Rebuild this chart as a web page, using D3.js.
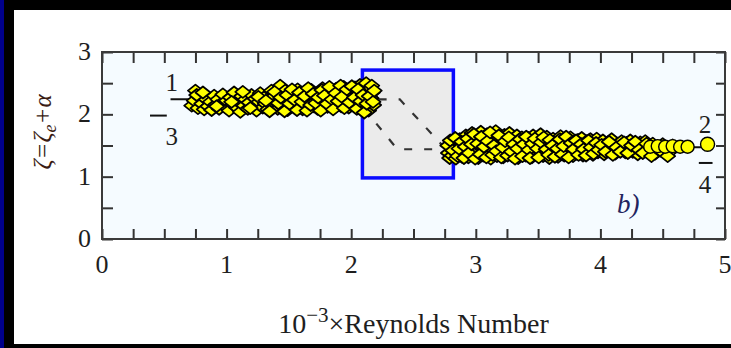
<!DOCTYPE html>
<html>
<head>
<meta charset="utf-8">
<script src="https://cdn.jsdelivr.net/npm/d3@7/dist/d3.min.js"></script>
<style>
  html, body { margin: 0; padding: 0; background: #ffffff; }
  svg { display: block; }
  text { font-family: "Liberation Serif", "DejaVu Serif", serif; }
</style>
</head>
<body>
<svg id="chart" width="731" height="348"></svg>
<script>
// Laminar branch (lower Reynolds numbers), in units of 10^3 Re
const laminarBranch = [
  [0.72,2.14],[0.74,2.22],[0.75,2.38],[0.77,2.10],[0.78,2.28],[0.80,2.17],[0.82,2.08],[0.83,2.25],[0.85,2.13],
  [0.87,2.20],[0.88,2.07],[0.90,2.30],[0.91,2.15],[0.93,2.24],[0.94,2.09],[0.96,2.18],[0.97,2.32],[0.99,2.12],[1.00,2.22],
  [1.02,2.06],[1.03,2.27],[1.05,2.16],[1.06,2.35],[1.08,2.11],[1.09,2.21],[1.11,2.04],[1.12,2.29],[1.14,2.14],[1.15,2.24],
  [1.17,2.09],[1.18,2.19],[1.20,2.31],[1.21,2.13],[1.23,2.25],[1.24,2.06],[1.26,2.20],[1.27,2.34],[1.29,2.11],[1.30,2.27],
  [1.31,2.17],[1.33,2.08],[1.34,2.23],[1.36,2.38],[1.37,2.14],[1.38,2.29],[1.40,2.19],[1.41,2.09],[1.42,2.33],[1.43,2.46],
  [1.44,2.22],[1.45,2.12],[1.46,2.28],[1.47,2.38],[1.48,2.16],[1.49,2.07],[1.50,2.25],[1.51,2.34],[1.52,2.13],[1.53,2.21],
  [1.54,2.30],[1.55,2.10],[1.56,2.19],[1.57,2.40],[1.58,2.26],[1.59,2.15],[1.60,2.32],[1.61,2.08],[1.62,2.23],[1.63,2.36],
  [1.64,2.17],[1.65,2.29],[1.66,2.11],[1.67,2.25],[1.68,2.39],[1.69,2.20],[1.70,2.13],[1.71,2.31],[1.72,2.24],[1.73,2.09],
  [1.74,2.35],[1.75,2.18],[1.76,2.27],[1.77,2.42],[1.78,2.14],[1.79,2.22],[1.80,2.33],[1.81,2.12],[1.82,2.26],[1.83,2.38],
  [1.84,2.19],[1.85,2.30],[1.86,2.10],[1.87,2.24],[1.88,2.41],[1.89,2.16],[1.90,2.28],[1.91,2.35],[1.92,2.13],[1.93,2.22],
  [1.94,2.44],[1.95,2.18],[1.96,2.31],[1.97,2.26],[1.98,2.11],[1.99,2.37],[2.00,2.21],[2.01,2.30],[2.02,2.15],[2.03,2.43],
  [2.04,2.25],[2.05,2.34],[2.06,2.18],[2.07,2.47],[2.08,2.28],[2.09,2.12],[2.10,2.38],[2.11,2.22],[2.12,2.50],[2.13,2.31],
  [2.14,2.06],[2.15,2.41],[2.16,2.26],[2.17,2.35],[2.18,2.15],
  [0.76,2.31],[0.81,2.35],[0.92,2.13],[1.04,2.20],[1.13,2.36],[1.19,2.10],[1.255,2.28],[1.315,2.22],[1.345,2.05],[1.385,2.36],
  [1.415,2.18],[1.435,2.27],[1.465,2.05],[1.485,2.31],[1.505,2.17],[1.525,2.40],[1.545,2.23],[1.565,2.07],[1.585,2.35],[1.605,2.20],
  [1.625,2.29],[1.645,2.06],[1.655,2.42],[1.675,2.15],[1.695,2.33],[1.715,2.18],[1.735,2.27],[1.755,2.06],[1.765,2.39],[1.785,2.30],
  [1.805,2.17],[1.825,2.44],[1.845,2.24],[1.855,2.08],[1.875,2.34],[1.895,2.21],[1.915,2.46],[1.925,2.28],[1.945,2.10],[1.965,2.40],
  [1.985,2.19],[2.005,2.45],[2.025,2.27],[2.045,2.09],[2.055,2.40],[2.075,2.21],[2.095,2.31],[2.105,2.03],[2.125,2.17],[2.145,2.29],
  [2.165,2.46],[2.175,2.20],[2.185,2.38]
];

// Turbulent branch (higher Reynolds numbers)
const turbulentBranch = [
  [2.78,1.38],[2.79,1.30],[2.80,1.47],[2.81,1.34],[2.82,1.55],[2.83,1.41],[2.84,1.29],[2.85,1.50],[2.86,1.36],[2.87,1.60],
  [2.88,1.44],[2.89,1.32],[2.90,1.53],[2.91,1.39],[2.92,1.66],[2.93,1.46],[2.94,1.31],[2.95,1.57],[2.96,1.42],[2.97,1.70],
  [2.98,1.35],[2.99,1.51],[3.00,1.63],[3.01,1.40],[3.02,1.30],[3.03,1.56],[3.04,1.72],[3.05,1.45],[3.06,1.34],[3.07,1.61],
  [3.08,1.49],[3.09,1.68],[3.10,1.37],[3.11,1.53],[3.12,1.29],[3.13,1.64],[3.14,1.43],[3.15,1.58],[3.16,1.73],[3.17,1.33],
  [3.18,1.50],[3.19,1.62],[3.20,1.39],[3.21,1.55],[3.22,1.31],[3.23,1.67],[3.24,1.46],[3.25,1.59],[3.26,1.36],[3.27,1.70],
  [3.28,1.48],[3.29,1.33],[3.30,1.61],[3.31,1.42],[3.32,1.54],[3.33,1.66],[3.34,1.30],[3.35,1.51],[3.36,1.38],[3.37,1.63],
  [3.38,1.45],[3.39,1.57],[3.40,1.34],[3.41,1.49],[3.42,1.62],[3.43,1.37],[3.44,1.55],[3.45,1.31],[3.46,1.66],[3.47,1.44],
  [3.48,1.52],[3.49,1.35],[3.50,1.60],[3.51,1.41],[3.52,1.68],[3.53,1.47],[3.54,1.33],[3.55,1.57],[3.56,1.39],[3.57,1.64],
  [3.58,1.50],[3.59,1.30],[3.60,1.54],[3.61,1.43],[3.62,1.61],[3.63,1.36],[3.64,1.48],[3.65,1.58],[3.66,1.32],[3.67,1.52],
  [3.68,1.65],[3.69,1.40],[3.70,1.55],[3.71,1.34],[3.72,1.47],[3.73,1.60],[3.74,1.38],[3.75,1.51],[3.76,1.63],[3.77,1.42],
  [3.78,1.33],[3.79,1.56],[3.80,1.46],[3.81,1.37],[3.82,1.59],[3.83,1.49],[3.84,1.41],[3.85,1.62],[3.86,1.34],[3.87,1.53],
  [3.88,1.45],[3.89,1.57],[3.90,1.38],[3.91,1.50],[3.92,1.60],[3.93,1.42],[3.94,1.35],[3.95,1.55],[3.96,1.47],[3.97,1.61],
  [3.98,1.39],[3.99,1.52],[4.00,1.44],[4.02,1.58],[4.03,1.36],[4.05,1.49],[4.06,1.55],[4.08,1.41],[4.09,1.60],[4.11,1.46],
  [4.12,1.37],[4.14,1.53],[4.15,1.43],[4.17,1.57],[4.18,1.48],[4.20,1.39],[4.21,1.54],[4.23,1.45],[4.24,1.58],[4.26,1.40],
  [4.27,1.51],[4.29,1.47],[4.30,1.36],[4.32,1.55],[4.33,1.44],[4.35,1.50],[4.36,1.57],[4.38,1.41],[4.40,1.49],[4.42,1.53],
  [4.44,1.37],[4.46,1.46],[4.50,1.52],[4.53,1.44],[4.55,1.39],[4.58,1.50],
  [2.775,1.50],[2.795,1.58],[2.815,1.42],[2.835,1.62],[2.855,1.33],[2.865,1.45],[2.885,1.56],[2.905,1.30],[2.915,1.48],[2.935,1.61],
  [2.945,1.38],[2.965,1.52],[2.985,1.68],[2.995,1.29],[3.015,1.53],[3.035,1.36],[3.045,1.64],[3.065,1.48],[3.085,1.31],[3.095,1.57],
  [3.115,1.71],[3.135,1.35],[3.145,1.50],[3.165,1.41],[3.185,1.66],[3.205,1.31],[3.215,1.47],[3.235,1.57],[3.255,1.34],[3.265,1.63],
  [3.285,1.40],[3.305,1.52],[3.315,1.29],[3.335,1.45],[3.355,1.60],[3.375,1.33],[3.385,1.52],[3.405,1.64],[3.425,1.43],[3.435,1.30],
  [3.455,1.53],[3.475,1.61],[3.495,1.45],[3.505,1.31],[3.525,1.55],[3.545,1.63],[3.565,1.44],[3.585,1.35],[3.595,1.59],[3.615,1.50],
  [3.635,1.32],[3.655,1.45],[3.675,1.60],[3.695,1.36],[3.705,1.49],[3.725,1.64],[3.745,1.31],[3.765,1.54],[3.785,1.44],[3.805,1.58],
  [3.825,1.35],[3.845,1.52],[3.865,1.44],[3.885,1.34],[3.905,1.58],[3.925,1.47],[3.945,1.37],[3.965,1.54],[3.985,1.43],[4.01,1.51],
  [4.04,1.40],[4.07,1.56],[4.10,1.35],[4.13,1.47],[4.16,1.40],[4.19,1.55],[4.22,1.38],[4.25,1.50],[4.28,1.56],[4.31,1.43],
  [4.34,1.38],[4.37,1.53],[4.41,1.33],[4.48,1.42],[4.54,1.33]
];

// Highest-Re runs, drawn as circles
const endRuns = [[4.40,1.48],[4.46,1.49],[4.52,1.48],[4.58,1.49],[4.64,1.48],[4.70,1.48],[4.86,1.52]];

// Reference levels with their labels
const levelLines = [
  { id: "1", x0: 0.55, x1: 2.15, y: 2.24 },
  { id: "3", x0: 0.385, x1: 0.52, y: 1.98 },
  { id: "2", x0: 2.75, x1: 4.90, y: 1.47 },
  { id: "4", x0: 4.79, x1: 4.90, y: 1.22 }
];
const levelLabels = [
  { text: "1", x: 0.56, y: 2.38 },
  { text: "3", x: 0.56, y: 1.51 },
  { text: "2", x: 4.84, y: 1.70 },
  { text: "4", x: 4.84, y: 0.74 }
];

// Transition region and the hysteresis paths across it
const transitionBox = { x0: 2.09, x1: 2.82, y0: 0.98, y1: 2.71 };
const upperPath = [[2.22,2.24],[2.39,2.24],[2.76,1.44]];
const lowerPath = [[2.10,2.10],[2.37,1.44],[2.70,1.44]];

const xTickLabels = [0, 1, 2, 3, 4, 5];
const yTickLabels = [0, 1, 2, 3];

const svg = d3.select("#chart");
const W = 731, H = 348;

const x = d3.scaleLinear().domain([0, 5]).range([102, 725]);
const y = d3.scaleLinear().domain([0, 3]).range([239, 52]);

// outer frame
svg.append("rect").attr("x", 0).attr("y", 0).attr("width", W).attr("height", H).attr("fill", "#ffffff");
svg.append("rect").attr("x", 0).attr("y", 0).attr("width", W).attr("height", 10).attr("fill", "#000000");
svg.append("rect").attr("x", 0).attr("y", 344).attr("width", W).attr("height", 4).attr("fill", "#000000");
svg.append("rect").attr("x", 0).attr("y", 0).attr("width", 14).attr("height", H).attr("fill", "#000000");
svg.append("rect").attr("x", 0).attr("y", 0).attr("width", 4).attr("height", H).attr("fill", "#00008c");

// plot area
svg.append("rect")
  .attr("x", x(0)).attr("y", y(3)).attr("width", x(5) - x(0)).attr("height", y(0) - y(3))
  .attr("fill", "#f5fbff");

// transition region
svg.append("rect")
  .attr("x", x(transitionBox.x0)).attr("y", y(transitionBox.y1))
  .attr("width", x(transitionBox.x1) - x(transitionBox.x0))
  .attr("height", y(transitionBox.y0) - y(transitionBox.y1))
  .attr("fill", "#ebebeb").attr("stroke", "#0a0aff").attr("stroke-width", 3.5);

const line = d3.line().x(d => x(d[0])).y(d => y(d[1]));
svg.append("g").selectAll("path").data([upperPath, lowerPath]).join("path")
  .attr("d", line).attr("fill", "none").attr("stroke", "#333333")
  .attr("stroke-width", 2.2).attr("stroke-dasharray", "8,12");

// reference levels
svg.append("g").selectAll("line").data(levelLines).join("line")
  .attr("x1", d => x(d.x0)).attr("x2", d => x(d.x1))
  .attr("y1", d => y(d.y)).attr("y2", d => y(d.y))
  .attr("stroke", "#111111").attr("stroke-width", 2);

// ticks on all four sides, pointing inward
const tickColor = "#333333";
const xTicks = d3.range(0, 5.001, 0.25);
const yTicks = d3.range(0, 3.001, 0.5);
function styleTicks(g) {
  g.select(".domain").remove();
  g.selectAll(".tick line").attr("stroke", tickColor).attr("stroke-width", 2);
}
svg.append("g").attr("transform", `translate(0,${y(0)})`)
  .call(d3.axisBottom(x).tickValues(xTicks).tickSize(-10).tickFormat(""))
  .call(styleTicks);
svg.append("g").attr("transform", `translate(0,${y(3)})`)
  .call(d3.axisTop(x).tickValues(xTicks).tickSize(-11).tickFormat(""))
  .call(styleTicks);
svg.append("g").attr("transform", `translate(${x(0)},0)`)
  .call(d3.axisLeft(y).tickValues(yTicks).tickSize(-11).tickFormat(""))
  .call(styleTicks);
svg.append("g").attr("transform", `translate(${x(5)},0)`)
  .call(d3.axisRight(y).tickValues(yTicks).tickSize(-9).tickFormat(""))
  .call(styleTicks);

// data points
const diamond = "M0,-6L7.5,0L0,6L-7.5,0Z";
svg.append("g").selectAll("path").data(laminarBranch.concat(turbulentBranch)).join("path")
  .attr("d", diamond)
  .attr("transform", d => `translate(${x(d[0])},${y(d[1])})`)
  .attr("fill", "#ffff00").attr("stroke", "#000000").attr("stroke-width", 1.8)
  .attr("stroke-linejoin", "round");
svg.append("g").selectAll("circle").data(endRuns).join("circle")
  .attr("cx", d => x(d[0])).attr("cy", d => y(d[1]))
  .attr("r", (d, i) => i === endRuns.length - 1 ? 7 : 6.5)
  .attr("fill", "#ffff00").attr("stroke", "#000000").attr("stroke-width", 1.4);

// plot frame
svg.append("rect")
  .attr("x", x(0)).attr("y", y(3)).attr("width", x(5) - x(0)).attr("height", y(0) - y(3))
  .attr("fill", "none").attr("stroke", "#3a3a3a").attr("stroke-width", 2);

// level labels
svg.append("g").selectAll("text").data(levelLabels).join("text")
  .attr("x", d => x(d.x)).attr("y", d => y(d.y))
  .attr("text-anchor", "middle").attr("font-size", 25).attr("fill", "#1e1e1e")
  .text(d => d.text);

// tick labels
svg.append("g").selectAll("text").data(xTickLabels).join("text")
  .attr("x", d => x(d)).attr("y", 273)
  .attr("text-anchor", "middle").attr("font-size", 26).attr("fill", "#1e1e1e")
  .text(d => d);
svg.append("g").selectAll("text").data(yTickLabels).join("text")
  .attr("x", 91).attr("y", d => y(d) + 8)
  .attr("text-anchor", "end").attr("font-size", 26).attr("fill", "#1e1e1e")
  .text(d => d);

// panel tag
svg.append("text").attr("x", 617).attr("y", 213)
  .attr("font-size", 27).attr("font-style", "italic").attr("fill", "#23235e")
  .text("b)");

// x-axis title
const xt = svg.append("text").attr("x", (x(0) + x(5)) / 2).attr("y", 333)
  .attr("text-anchor", "middle").attr("font-size", 28).attr("fill", "#1e1e1e");
xt.append("tspan").text("10");
xt.append("tspan").attr("font-size", 21).attr("dy", -11).text("\u22123");
xt.append("tspan").attr("dy", 11).text("\u00d7Reynolds Number");

// y-axis title
const yt = svg.append("text")
  .attr("transform", "translate(51,132) rotate(-90)")
  .attr("text-anchor", "middle").attr("font-size", 25).attr("fill", "#3a1c14")
  .attr("font-style", "italic");
yt.append("tspan").text("\u03b6=\u03b6");
yt.append("tspan").attr("font-size", 18).attr("dy", 5).text("e");
yt.append("tspan").attr("dy", -5).text("+\u03b1");
</script>
</body>
</html>
